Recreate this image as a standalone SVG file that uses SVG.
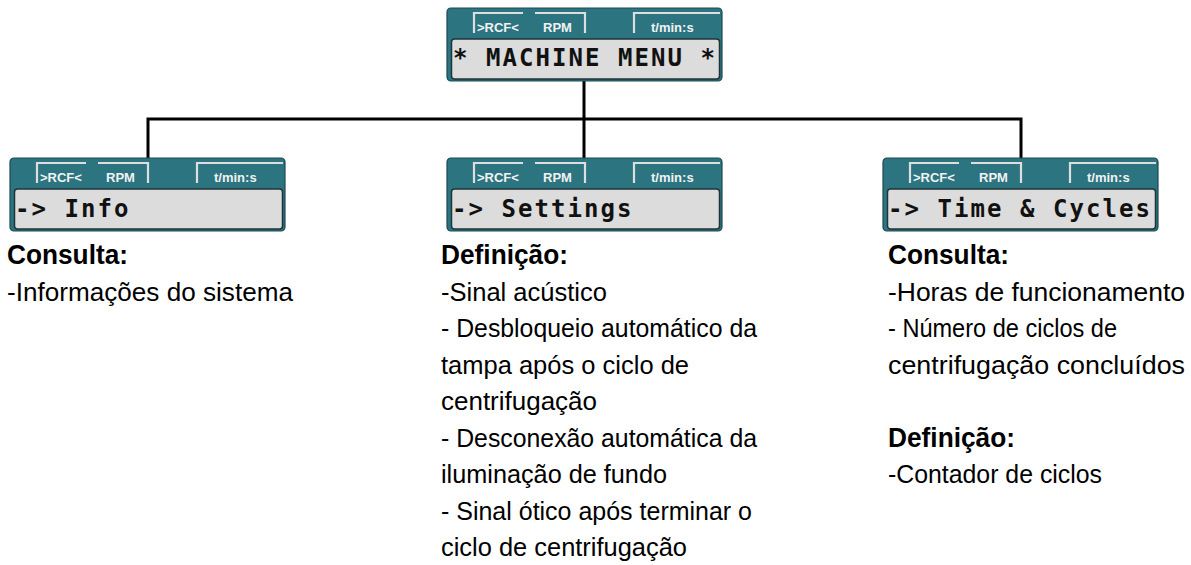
<svg xmlns="http://www.w3.org/2000/svg" xmlns:xlink="http://www.w3.org/1999/xlink" width="1191" height="565" viewBox="0 0 1191 565">
<style>
.frame{fill:#2b7480;stroke:#1d4a52;stroke-width:1.2}
.lcd{fill:#dcdcdc;stroke:#1f3438;stroke-width:1.5}
.tab{fill:none;stroke:#dedede;stroke-width:2.2}
.tabt{font-family:"Liberation Sans",Arial,sans-serif;font-weight:bold;font-size:13px;fill:#f2f2f2}
.lcdt{font-family:"DejaVu Sans Mono","Liberation Mono",monospace;font-weight:bold;font-size:24px;letter-spacing:2.05px;fill:#111}
.conn{fill:none;stroke:#000;stroke-width:3}
.h{font-family:"Liberation Sans",Arial,sans-serif;font-weight:bold;font-size:27.5px;fill:#000}
.b{font-family:"Liberation Sans",Arial,sans-serif;font-size:26.5px;fill:#000}
</style>
<defs>
<g id="display">
<rect class="frame" x="0" y="0" width="275" height="73" rx="4"/>
<rect class="lcd" x="4.5" y="31" width="268" height="40" rx="3"/>
<polyline class="tab" points="27,25 27,5 76,5"/>
<polyline class="tab" points="88,5 138,5 138,25"/>
<polyline class="tab" points="187,25 187,5 273,5"/>
<text class="tabt" x="30" y="24">&gt;RCF&lt;</text>
<text class="tabt" x="96" y="24">RPM</text>
<text class="tabt" x="204" y="24">t/min:s</text>
</g>
</defs>
<g id="connectors">
<path class="conn" d="M148,158 V119 H1021 V158 M584,80 V158"/>
</g>
<g id="machine-menu" transform="translate(447,8)">
<use xlink:href="#display" href="#display"/>
<text class="lcdt" x="6" y="58">* MACHINE MENU *</text>
</g>
<g id="info" transform="translate(10,158)">
<use xlink:href="#display" href="#display"/>
<text class="lcdt" x="5" y="59">-&gt; Info</text>
</g>
<g id="settings" transform="translate(447,158)">
<use xlink:href="#display" href="#display"/>
<text class="lcdt" x="5" y="59">-&gt; Settings</text>
</g>
<g id="time-cycles" transform="translate(883,158)">
<use xlink:href="#display" href="#display"/>
<text class="lcdt" x="5" y="59">-&gt; Time &amp; Cycles</text>
</g>
<g id="info-text">
<text class="h" x="7" y="264" textLength="121" lengthAdjust="spacingAndGlyphs">Consulta:</text>
<text class="b" x="7" y="300.5" textLength="286" lengthAdjust="spacingAndGlyphs">-Informações do sistema</text>
</g>
<g id="settings-text">
<text class="h" x="441" y="264" textLength="127" lengthAdjust="spacingAndGlyphs">Definição:</text>
<text class="b" x="441" y="300.5" textLength="166" lengthAdjust="spacingAndGlyphs">-Sinal acústico</text>
<text class="b" x="441" y="337" textLength="316" lengthAdjust="spacingAndGlyphs">- Desbloqueio automático da</text>
<text class="b" x="441" y="373.5" textLength="248" lengthAdjust="spacingAndGlyphs">tampa após o ciclo de</text>
<text class="b" x="441" y="410" textLength="156" lengthAdjust="spacingAndGlyphs">centrifugação</text>
<text class="b" x="441" y="446.5" textLength="316" lengthAdjust="spacingAndGlyphs">- Desconexão automática da</text>
<text class="b" x="441" y="483" textLength="226" lengthAdjust="spacingAndGlyphs">iluminação de fundo</text>
<text class="b" x="441" y="519.5" textLength="311" lengthAdjust="spacingAndGlyphs">- Sinal ótico após terminar o</text>
<text class="b" x="441" y="556" textLength="246" lengthAdjust="spacingAndGlyphs">ciclo de centrifugação</text>
</g>
<g id="time-text">
<text class="h" x="888" y="264" textLength="121" lengthAdjust="spacingAndGlyphs">Consulta:</text>
<text class="b" x="888" y="300.5" textLength="297" lengthAdjust="spacingAndGlyphs">-Horas de funcionamento</text>
<text class="b" x="888" y="337" textLength="229" lengthAdjust="spacingAndGlyphs">- Número de ciclos de</text>
<text class="b" x="888" y="373.5" textLength="297" lengthAdjust="spacingAndGlyphs">centrifugação concluídos</text>
<text class="h" x="888" y="446.5" textLength="127" lengthAdjust="spacingAndGlyphs">Definição:</text>
<text class="b" x="888" y="483" textLength="214" lengthAdjust="spacingAndGlyphs">-Contador de ciclos</text>
</g>
</svg>
